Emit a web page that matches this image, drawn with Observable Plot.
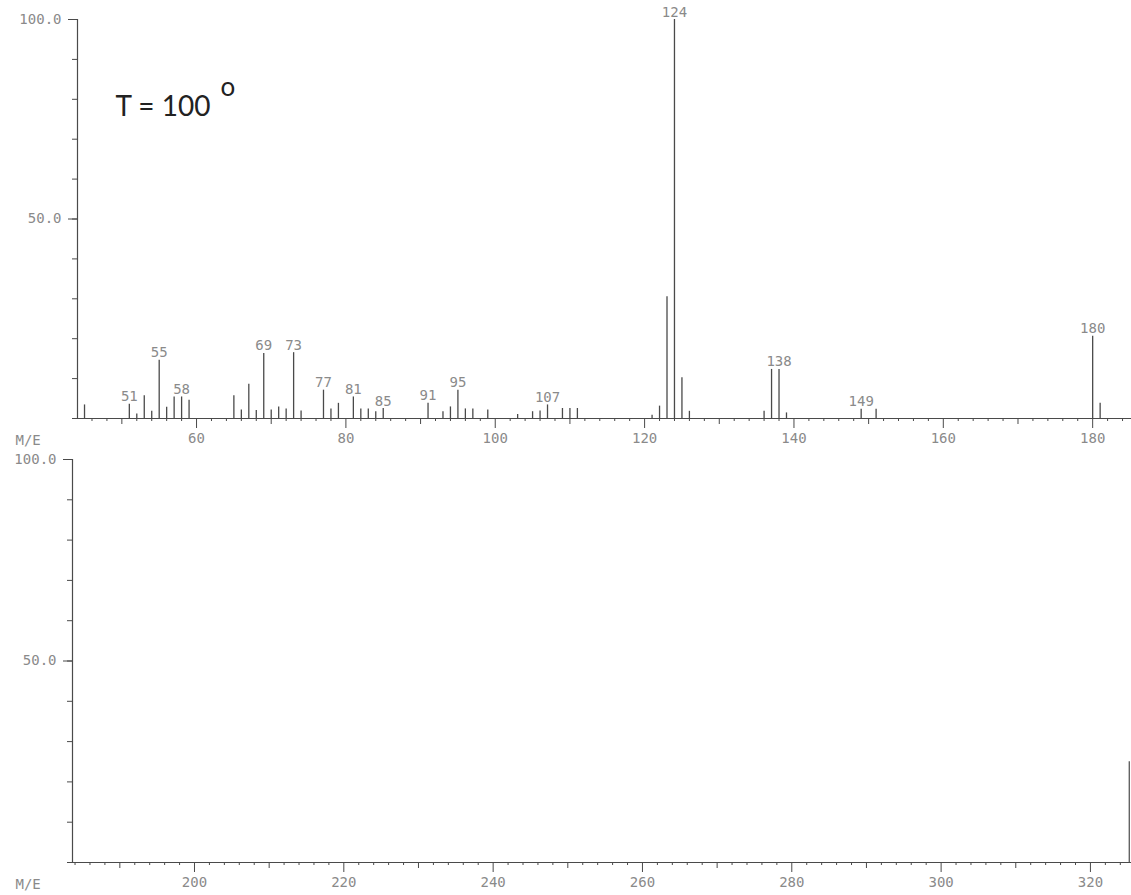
<!DOCTYPE html>
<html><head><meta charset="utf-8">
<script src="https://cdn.jsdelivr.net/npm/d3@7"></script>
<script src="https://cdn.jsdelivr.net/npm/@observablehq/plot@0.6"></script>
<style>
html,body{margin:0;padding:0;background:#fff;}
#wrap{position:relative;width:1131px;height:895px;overflow:hidden;}
#top,#bot{position:absolute;left:0;}
#top{top:0;}
#bot{top:440px;}
</style></head><body>
<div id="wrap"><div id="top"></div><div id="bot"></div></div>
<script>
// m/z values of the peaks and relative intensities (%)
const mz = [45,51,52,53,54,55,56,57,58,59,65,66,67,68,69,70,71,72,73,74,77,78,79,81,82,83,84,85,91,93,94,95,96,97,99,103,105,106,107,109,110,111,121,122,123,124,125,126,136,137,138,139,149,151,180,181];
const intensity = [3.4,3.6,1.1,5.7,1.8,14.6,2.8,5.4,5.4,4.6,5.7,2.1,8.6,2.0,16.3,2.1,2.9,2.4,16.5,1.9,7.1,2.4,3.8,5.4,2.4,2.4,1.7,2.5,3.8,1.7,2.9,7.1,2.4,2.4,2.1,1.0,1.7,1.9,3.4,2.5,2.5,2.5,0.8,3.1,30.5,100,10.2,1.8,1.8,12.3,12.3,1.4,2.3,2.3,20.6,3.8];
const labeledPeaks = [51,55,58,69,73,77,81,85,91,95,107,124,138,149,180];
const yLabelTicks = [50, 100];
const topMajorTicks = [60, 80, 100, 120, 140, 160, 180];
const botMajorTicks = [200, 220, 240, 260, 280, 300, 320];
const axisTitle = ["M/E"];
const conditionText = ["T = 100"];
const degreeText = ["o"];

const peaks = mz.map((m, i) => ({mz: m, inten: intensity[i]}));
const labels = peaks.filter(d => labeledPeaks.includes(d.mz));

const LINE = "#4a4a4a";
const TXT = "#8a8a8a";

function tiers(lo, hi, major) {
  const med = d3.range(Math.ceil(lo / 10) * 10, hi + 0.01, 10).filter(v => !major.includes(v));
  const minor = d3.range(Math.ceil(lo / 2) * 2, hi + 0.01, 2).filter(v => v % 10 !== 0);
  return {med, minor};
}

function panel({xDomain, major, ml, height, mt, mb, withPeaks, extra}) {
  const t = tiers(xDomain[0], xDomain[1], major);
  const marks = [
    Plot.ruleY([0], {stroke: LINE, strokeWidth: 1.2}),
    Plot.ruleX([xDomain[0]], {y1: 0, y2: 100, stroke: LINE, strokeWidth: 1.2}),
    Plot.axisX(t.minor, {tickSize: 3, tickFormat: () => "", label: null, stroke: LINE}),
    Plot.axisX(t.med, {tickSize: 6, tickFormat: () => "", label: null, stroke: LINE}),
    Plot.axisX(major, {tickSize: 10, tickPadding: 5, label: null, stroke: LINE, fill: TXT, tickFormat: d => String(d)}),
    Plot.axisY(d3.range(0, 101, 10), {tickSize: 5, tickFormat: () => "", label: null, stroke: LINE}),
    Plot.axisY(yLabelTicks, {tickSize: 9, tickPadding: 7, label: null, stroke: LINE, fill: TXT, tickFormat: d => d.toFixed(1)}),
    Plot.text(axisTitle, {text: d => d, frameAnchor: "bottom-left", dx: 15 - ml, dy: 22, lineAnchor: "middle", textAnchor: "start", fill: TXT})
  ];
  if (withPeaks) {
    marks.push(
      Plot.ruleX(peaks, {x: "mz", y1: 0, y2: "inten", stroke: LINE, strokeWidth: 1.3}),
      Plot.text(labels, {x: "mz", y: "inten", text: d => String(d.mz), lineAnchor: "bottom", dy: -3, fill: TXT}),
      Plot.text(conditionText, {text: d => d, frameAnchor: "top-left", dx: 38, dy: 96, lineAnchor: "bottom", textAnchor: "start", fontFamily: "Lato", fontSize: 28, fill: "#222"}),
      Plot.text(degreeText, {text: d => d, frameAnchor: "top-left", dx: 143, dy: 76, lineAnchor: "bottom", textAnchor: "start", fontFamily: "Lato", fontSize: 26, fill: "#222"})
    );
  }
  if (extra) marks.push(...extra);
  return Plot.plot({
    width: 1131, height, marginLeft: ml, marginRight: 0, marginTop: mt, marginBottom: mb,
    x: {domain: xDomain},
    y: {domain: [0, 100]},
    style: {background: "transparent", fontFamily: "DejaVu Sans Mono", fontSize: "14px", color: LINE, overflow: "visible"},
    marks
  });
}

document.getElementById("top").append(panel({
  xDomain: [44.06, 185.2], major: topMajorTicks, ml: 77, height: 450, mt: 19, mb: 32, withPeaks: true
}));
document.getElementById("bot").append(panel({
  xDomain: [183.66, 325.5], major: botMajorTicks, ml: 72, height: 455, mt: 19, mb: 33, withPeaks: false,
  extra: [Plot.ruleX([325.2], {y1: 0, y2: 25, stroke: LINE, strokeWidth: 1.2})]
}));
</script>
</body></html>
